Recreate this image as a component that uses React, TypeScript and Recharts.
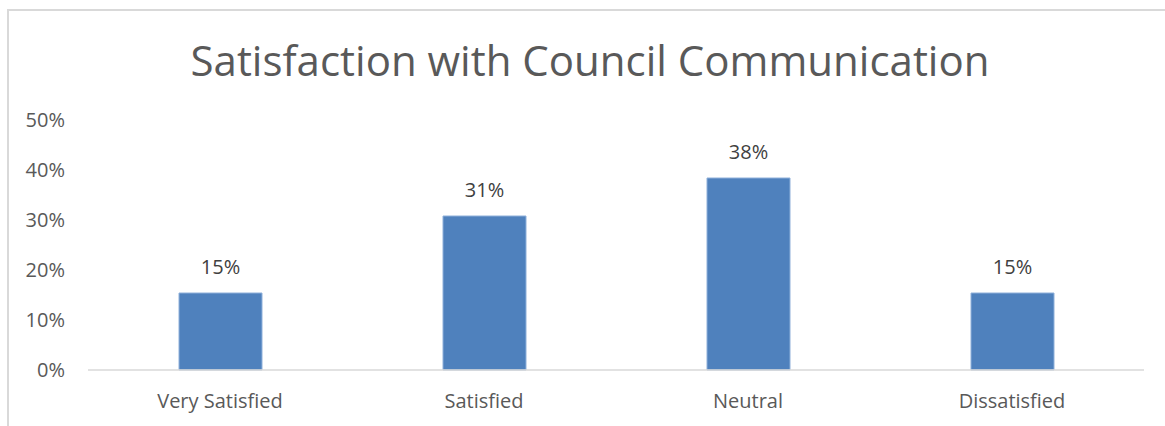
import React from 'react';
import { BarChart, Bar, XAxis, YAxis, LabelList } from 'recharts';

const categories = ['Very Satisfied', 'Satisfied', 'Neutral', 'Dissatisfied'];
const shares = [15.4, 30.8, 38.4, 15.4];
const yTicks = [0, 10, 20, 30, 40, 50];

const data = categories.map((name, i) => ({ name, value: shares[i] }));

const FONT = '"Open Sans", "Liberation Sans", sans-serif';

export default function App() {
    return (
        <div style={{ position: 'absolute', left: 0, top: 0, width: 1165, height: 426, overflow: 'hidden', background: '#fff', fontFamily: FONT }}>
            {/* chart frame, cropped on the right and bottom */}
            <div style={{ position: 'absolute', left: 7, top: 9, width: 1300, height: 600, borderLeft: '2px solid #d9d9d9', borderTop: '2px solid #d9d9d9' }} />
            <div style={{ position: 'absolute', left: 0, top: 31, width: 1180, textAlign: 'center', fontSize: 42, color: '#595959', lineHeight: '57px' }}>
                Satisfaction with Council Communication
            </div>
            <div style={{ position: 'absolute', left: 0, top: 0 }}>
                <BarChart width={1165} height={426} data={data} margin={{ top: 120, right: 21, left: 30, bottom: 0 }} barSize={83}>
                    <XAxis
                        dataKey="name"
                        height={56}
                        tickSize={0}
                        tickMargin={24}
                        axisLine={{ stroke: '#d9d9d9', strokeWidth: 1.5 }}
                        tick={{ fill: '#595959', fontSize: 20, fontFamily: FONT }}
                    />
                    <YAxis
                        width={58}
                        domain={[0, 50]}
                        ticks={yTicks}
                        tickFormatter={(v) => `${v}%`}
                        axisLine={false}
                        tickSize={0}
                        tickMargin={23}
                        tick={{ fill: '#595959', fontSize: 20, fontFamily: FONT }}
                    />
                    <Bar dataKey="value" fill="#4f81bd" stroke="#8fb0da" strokeWidth={1} isAnimationActive={false}>
                        <LabelList
                            dataKey="value"
                            position="top"
                            offset={19}
                            formatter={(v: any) => `${Math.round(Number(v))}%`}
                            style={{ fill: '#404040', fontSize: 20, fontFamily: FONT }}
                        />
                    </Bar>
                </BarChart>
            </div>
        </div>
    );
}
